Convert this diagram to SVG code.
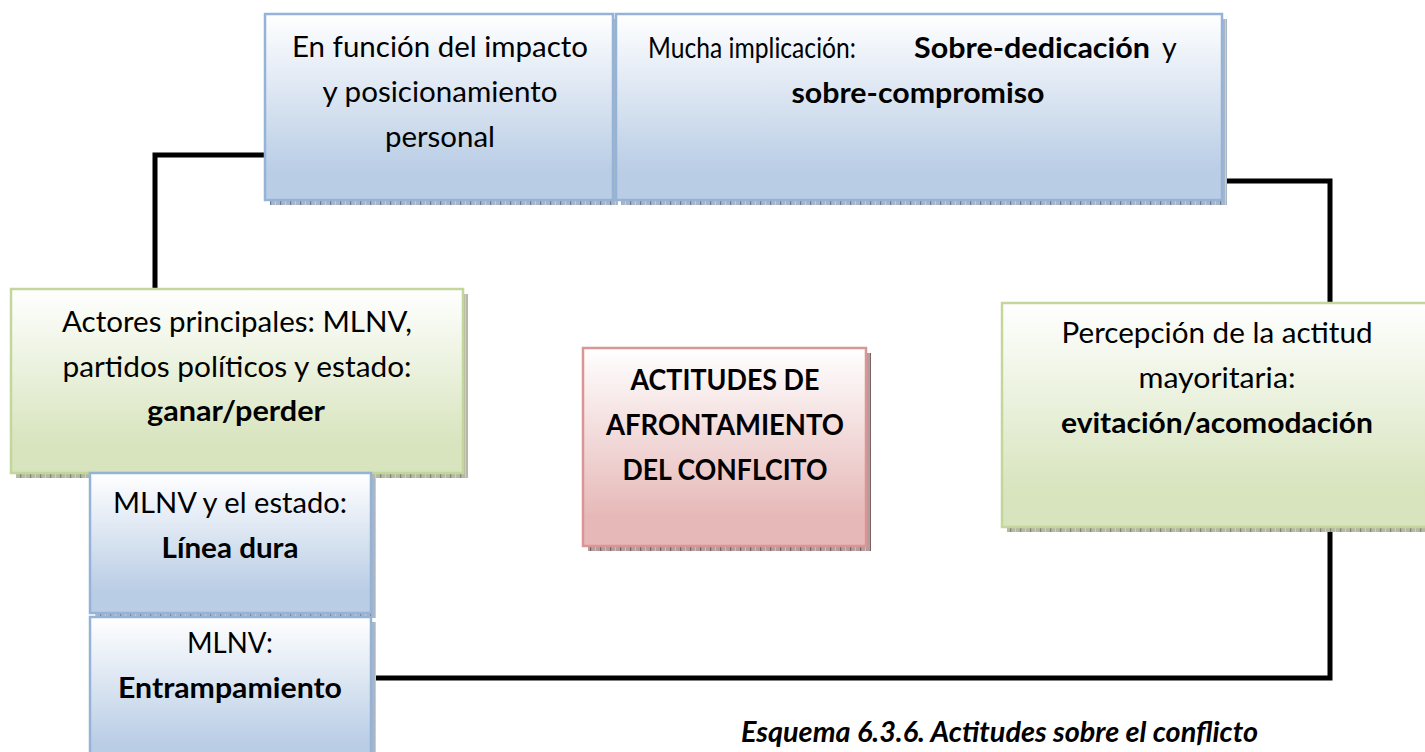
<svg xmlns="http://www.w3.org/2000/svg" width="1425" height="752" viewBox="0 0 1425 752">
<style>
.t{font-family:Lato,"Liberation Sans",sans-serif;font-size:28.5px;fill:#000;text-anchor:middle}
.s{text-anchor:start}
.b{font-weight:bold}
.cap{font-family:Lato,"Liberation Sans",sans-serif;font-size:28px;font-weight:bold;font-style:italic;fill:#000}
.blue{fill:url(#gBlue);stroke:#95b3d7;stroke-width:2.5}
.green{fill:url(#gGreen);stroke:#c3d69b;stroke-width:2.5}
.pink{fill:url(#gPink);stroke:#d99694;stroke-width:2.5}
.shB{fill:url(#pB)}
.shG{fill:url(#pG)}
.shP{fill:url(#pP)}
.conn{fill:none;stroke:#000;stroke-width:5;stroke-linejoin:miter}
</style>
<defs>
<linearGradient id="gBlue" x1="0" y1="0" x2="0" y2="1">
<stop offset="0" stop-color="#ffffff"/><stop offset="0.85" stop-color="#b9cde5"/><stop offset="1" stop-color="#b9cde5"/>
</linearGradient>
<linearGradient id="gGreen" x1="0" y1="0" x2="0" y2="1">
<stop offset="0" stop-color="#ffffff"/><stop offset="0.85" stop-color="#d7e4bd"/><stop offset="1" stop-color="#d7e4bd"/>
</linearGradient>
<linearGradient id="gPink" x1="0" y1="0" x2="0" y2="1">
<stop offset="0" stop-color="#ffffff"/><stop offset="0.85" stop-color="#e6b9b8"/><stop offset="1" stop-color="#e6b9b8"/>
</linearGradient>
<pattern id="pB" width="10" height="10" patternUnits="userSpaceOnUse">
<rect width="10" height="10" fill="#a9b6c8"/><rect x="0" width="1.2" height="10" fill="#6d7d94"/><rect x="5" y="0" width="1" height="10" fill="#c4cdd9"/>
</pattern>
<pattern id="pG" width="10" height="10" patternUnits="userSpaceOnUse">
<rect width="10" height="10" fill="#b4b8a5"/><rect x="0" width="1.2" height="10" fill="#7f846f"/><rect x="5" y="0" width="1" height="10" fill="#cdd0c0"/>
</pattern>
<pattern id="pP" width="10" height="10" patternUnits="userSpaceOnUse">
<rect width="10" height="10" fill="#b59c9d"/><rect x="0" width="1.2" height="10" fill="#7d6264"/><rect x="5" y="0" width="1" height="10" fill="#cfbcbd"/>
</pattern>
</defs>
<rect width="1425" height="752" fill="#ffffff"/>

<g id="connectors">
<path class="conn" d="M265,155 H155 V290"/>
<path class="conn" d="M1221,181 H1330 V304"/>
<path class="conn" d="M371,678 H1330 V527"/>
</g>

<g id="node-impacto">
<rect class="shB" x="270" y="19" width="348" height="186"/>
<rect class="blue" x="265" y="14" width="348" height="186"/>
<text class="t" x="440" y="57" textLength="296" lengthAdjust="spacingAndGlyphs">En función del impacto</text>
<text class="t" x="440" y="102" textLength="235" lengthAdjust="spacingAndGlyphs">y posicionamiento</text>
<text class="t" x="440" y="147" textLength="110" lengthAdjust="spacingAndGlyphs">personal</text>
</g>

<g id="node-implicacion">
<rect class="shB" x="621" y="19" width="606" height="186"/>
<rect class="blue" x="616" y="14" width="606" height="186"/>
<text class="t s" x="648" y="58" textLength="208" lengthAdjust="spacingAndGlyphs">Mucha implicación:</text>
<text class="t s b" x="914" y="58" textLength="236" lengthAdjust="spacingAndGlyphs">Sobre-dedicación</text>
<text class="t s" x="1162" y="58">y</text>
<text class="t b" x="918" y="103" textLength="253" lengthAdjust="spacingAndGlyphs">sobre-compromiso</text>
</g>

<g id="node-actores">
<rect class="shG" x="16" y="294" width="452" height="184"/>
<rect class="green" x="11" y="289" width="452" height="184"/>
<text class="t" x="237" y="332" textLength="350" lengthAdjust="spacingAndGlyphs">Actores principales: MLNV,</text>
<text class="t" x="237" y="377" textLength="349" lengthAdjust="spacingAndGlyphs">partidos políticos y estado:</text>
<text class="t b" x="236" y="421" textLength="178" lengthAdjust="spacingAndGlyphs">ganar/perder</text>
</g>

<g id="node-linea-dura">
<rect class="shB" x="95" y="478" width="281" height="140"/>
<rect class="blue" x="90" y="473" width="281" height="140"/>
<text class="t" x="230" y="513" textLength="234" lengthAdjust="spacingAndGlyphs">MLNV y el estado:</text>
<text class="t b" x="230" y="558" textLength="137" lengthAdjust="spacingAndGlyphs">Línea dura</text>
</g>

<g id="node-entrampamiento">
<rect class="shB" x="95" y="622" width="281" height="150"/>
<rect class="blue" x="90" y="617" width="281" height="150"/>
<text class="t" x="230" y="653" textLength="86" lengthAdjust="spacingAndGlyphs">MLNV:</text>
<text class="t b" x="230" y="698" textLength="224" lengthAdjust="spacingAndGlyphs">Entrampamiento</text>
</g>

<g id="node-actitudes">
<rect class="shP" x="588" y="353" width="283" height="198"/>
<rect class="pink" x="583" y="348" width="283" height="198"/>
<text class="t b" x="725" y="390" textLength="189" lengthAdjust="spacingAndGlyphs">ACTITUDES DE</text>
<text class="t b" x="725" y="435" textLength="238" lengthAdjust="spacingAndGlyphs">AFRONTAMIENTO</text>
<text class="t b" x="725" y="480" textLength="205" lengthAdjust="spacingAndGlyphs">DEL CONFLCITO</text>
</g>

<g id="node-percepcion">
<rect class="shG" x="1007" y="308" width="430" height="224"/>
<rect class="green" x="1002" y="303" width="430" height="224"/>
<text class="t" x="1217" y="343" textLength="311" lengthAdjust="spacingAndGlyphs">Percepción de la actitud</text>
<text class="t" x="1217" y="388" textLength="157" lengthAdjust="spacingAndGlyphs">mayoritaria:</text>
<text class="t b" x="1217" y="433" textLength="312" lengthAdjust="spacingAndGlyphs">evitación/acomodación</text>
</g>

<text id="caption" class="cap" x="741" y="742" textLength="517" lengthAdjust="spacingAndGlyphs">Esquema 6.3.6. Actitudes sobre el conflicto</text>
</svg>
